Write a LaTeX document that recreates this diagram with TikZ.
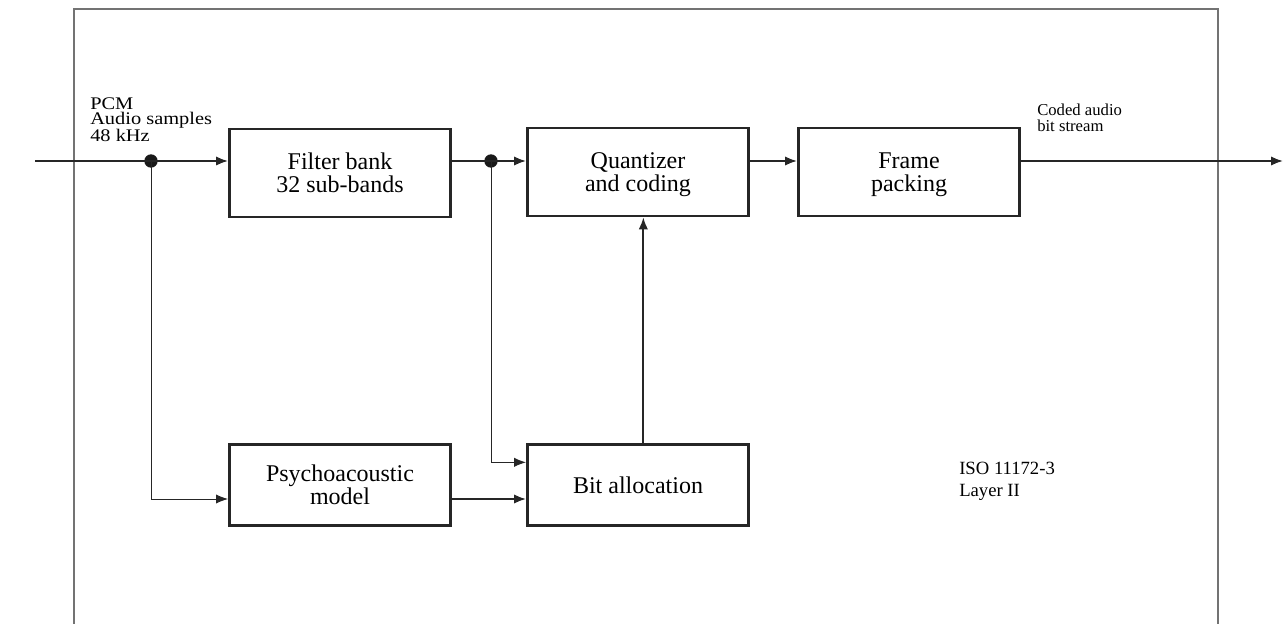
\documentclass[tikz,border=0pt]{standalone}
\usepackage{fontspec}
\setmainfont{Liberation Serif}
\newfontfamily\widefont[FakeStretch=1.15]{Liberation Serif}
\usetikzlibrary{arrows.meta}

\begin{document}
\begin{tikzpicture}[x=0.75pt, y=-0.75pt,
  block/.style={draw=black!85, line width=2pt, minimum width=166pt, minimum height=66pt, align=center, text depth=0pt, font=\fontsize{18}{17.5}\selectfont},
  sig/.style={draw=black!85, line width=1.3pt, -{Latex[length=9pt,width=7pt]}},
  tap/.style={draw=black!85, line width=0.7pt, -{Latex[length=9pt,width=7pt]}},
  junc/.style={circle, fill=black!90, inner sep=0pt, minimum size=10pt},
  lbl/.style={align=left, inner sep=0pt, font=\fontsize{13}{12}\selectfont}]
\useasboundingbox (0,0) rectangle (1283,624);

% Frame round the coder
\draw[black!55, line width=1.1pt] (74,624) -- (74,9) -- (1218,9) -- (1218,624);

% Blocks
\node[block] (filter) at (340,173) {Filter bank\\32 sub-bands};
\node[block] (quant) at (638,172) {Quantizer\\and coding};
\node[block] (frame) at (909,172) {Frame\\packing};
\node[block, minimum height=61pt] (psycho) at (340,485) {Psychoacoustic\\model};
\node[block, minimum height=61pt] (alloc) at (638,485) {Bit allocation};

% Junctions and free ends
\coordinate (in) at (35,161);
\coordinate (out) at (1283,161);
\node[junc] (tapA) at (151,161) {};
\node[junc] (tapB) at (491,161) {};

% Labels
\node[lbl, anchor=north west, font=\widefont\fontsize{13.3}{11.5}\selectfont] (pcm) at (90,97) {PCM\\Audio samples\\48 kHz};
\node[lbl, anchor=north west, font=\fontsize{12.5}{11.5}\selectfont] (coded) at (1037,104) {Coded audio\\bit stream};
\node[lbl, anchor=north west, font=\fontsize{14}{16.5}\selectfont] (iso) at (959,462) {ISO 11172-3\\Layer II};

% Signal path
\draw[sig] (in) -- (tapA.center) -- (filter.west |- tapA);
\draw[sig] (filter.east |- tapB) -- (tapB.center) -- (quant.west |- tapB);
\draw[sig] (quant.east |- tapB) -- (frame.west |- tapB);
\draw[sig] (frame.east |- tapB) -- (out);

% Side paths
\draw[tap] (tapA.center) |- ([yshift=-10.5pt]psycho.west);
\draw[tap] (tapB.center) |- ([yshift=17pt]alloc.west);
\draw[sig] ([yshift=-10.5pt]psycho.east) -- ([yshift=-10.5pt]alloc.west);
\draw[sig] ([xshift=4pt]alloc.north) -- ([xshift=4pt]quant.south);
\end{tikzpicture}
\end{document}
